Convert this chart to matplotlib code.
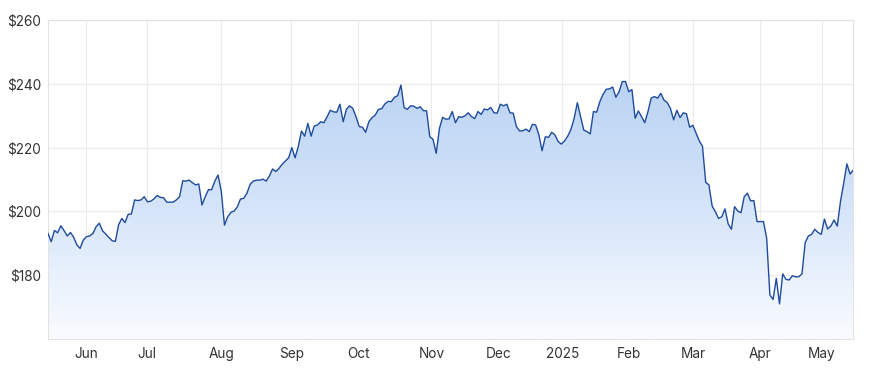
import numpy as np
import pandas as pd
import matplotlib
matplotlib.use("Agg")
import matplotlib.pyplot as plt
from matplotlib.colors import LinearSegmentedColormap

plt.rcParams['font.family'] = ['Inter', 'DejaVu Sans']

# closing prices, one per trading day from 15 May 2024
prices_1 = [193.1, 190.5, 194.0, 193.3, 195.5, 194.0, 192.3, 193.4, 191.9, 189.5,
            188.4, 191.0, 192.1, 192.3, 193.1, 195.2, 196.3, 193.9, 192.9, 191.8,
            190.8, 190.6, 195.8, 197.8, 196.5, 199.1, 199.2, 203.6, 203.4, 203.6,
            204.6, 203.0, 203.2, 203.9, 205.0, 204.4, 204.3, 202.9, 202.9, 202.9,
            203.6, 204.6, 209.6]
prices_2 = [209.5, 209.8, 209.0, 208.3, 208.6, 202.0, 204.6, 206.8, 206.8, 209.5,
            211.4, 206.4, 195.7, 198.3, 199.7, 200.1, 201.4, 203.9, 204.1, 205.7,
            208.5, 209.5, 209.8, 209.8, 210.1, 209.5, 211.1, 213.3, 212.5, 213.5,
            214.8, 215.8, 216.8, 220.0, 216.8, 220.3, 225.2, 223.6, 227.6, 223.6,
            226.8, 227.1]
prices_3 = [228.1, 227.8, 229.7, 231.7, 231.2, 231.1, 233.6, 228.1, 232.0, 233.1,
            232.3, 229.7, 226.6, 226.4, 224.8, 228.1, 229.4, 230.2, 232.0, 232.2,
            233.7, 234.5, 234.4, 235.8, 236.3, 239.6, 232.5, 232.0, 233.1, 233.0,
            232.3, 232.8, 231.6, 231.5, 223.4, 222.6, 218.2, 226.0, 229.5, 228.9,
            229.0, 231.3]
prices_4 = [227.8, 229.7, 229.5, 230.0, 230.9, 229.7, 229.1, 231.3, 230.4, 232.1,
            231.8, 232.6, 230.9, 230.8, 233.6, 233.1, 233.6, 230.9, 230.8, 226.6,
            225.2, 225.3, 225.8, 225.0, 227.3, 227.1, 224.0, 219.0, 223.4, 223.2,
            224.8, 224.0, 221.9, 221.1, 222.1, 223.6, 225.7, 229.2, 234.1, 229.7,
            225.5, 225.0]
prices_5 = [224.3, 231.3, 231.1, 234.4, 236.7, 238.3, 238.4, 239.0, 235.8, 237.5,
            240.7, 240.7, 237.5, 238.2, 229.2, 231.5, 229.7, 227.8, 231.3, 235.5,
            236.0, 235.5, 237.0, 234.9, 234.1, 232.3, 228.7, 231.7, 229.4, 230.9,
            230.6, 226.4, 227.0, 224.5, 222.1, 220.4, 209.1, 208.3, 201.7, 199.9,
            197.8]
prices_6 = [198.3, 200.8, 196.1, 194.4, 201.5, 200.1, 199.6, 204.6, 205.7, 203.3,
            203.4, 196.8, 196.8, 196.8, 191.6, 173.8, 172.4, 179.0, 171.0, 180.4,
            178.7, 178.5, 179.8, 179.5, 179.5, 180.4, 190.2, 192.3, 192.8, 194.4,
            193.4, 192.8, 197.6, 194.5, 195.4, 197.3, 195.4, 203.1, 208.8, 214.9,
            211.7, 213.0]

# month labels and where they sit (in trading-day steps from the first point)
month_labels = ['Jun', 'Jul', 'Aug', 'Sep', 'Oct', 'Nov', 'Dec', '2025',
                'Feb', 'Mar', 'Apr', 'May']
month_pos = [11.9, 30.9, 54.0, 75.8, 96.7, 119.5, 140.4, 160.3, 181.2, 201.1,
             222.0, 241.1]
y_ticks = [180, 200, 220, 240, 260]

prices = np.array(prices_1 + prices_2 + prices_3 + prices_4 + prices_5 + prices_6)
n = len(prices)
x = np.arange(n)

fig = plt.figure(figsize=(8.7, 3.68), dpi=100)
ax = fig.add_axes([48 / 870, 1 - 339 / 368, (853.3 - 48) / 870, (339 - 20) / 368])
ymin, ymax = 160, 260

# gradient fill under the line
cmap = LinearSegmentedColormap.from_list('fill', ['#fafcff', '#d6e5f9', '#bad3f3'])
grad = np.linspace(0, 1, 256).reshape(-1, 1)
img = ax.imshow(grad, cmap=cmap, aspect='auto', origin='lower',
                extent=(0, n - 1, ymin, prices.max()), zorder=1)
poly = ax.fill_between(x, prices, ymin, color='none')
img.set_clip_path(poly.get_paths()[0], transform=ax.transData)

ax.plot(x, prices, color='#1f4b9e', lw=1.0, zorder=3)

ax.set_xlim(0, n - 1)
ax.set_ylim(ymin, ymax)
ax.set_yticks(y_ticks)
ax.set_yticklabels(['$%d' % v for v in y_ticks])
ax.set_xticks(month_pos)
ax.set_xticklabels(month_labels)
ax.grid(True, color='#ebebeb', lw=0.8, zorder=0)
ax.set_axisbelow(True)
ax.tick_params(length=0, labelsize=9.8, colors='#333333')
ax.tick_params(axis='y', pad=5)
ax.tick_params(axis='x', pad=6)
for sp in ax.spines.values():
    sp.set_color('#e3e3e3')
    sp.set_linewidth(0.8)

fig.savefig('out.png', dpi=100)
